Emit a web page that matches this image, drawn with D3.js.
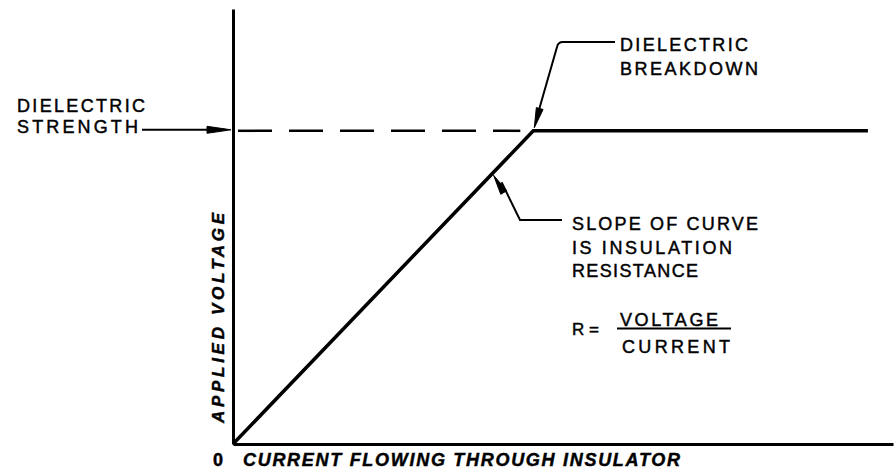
<!DOCTYPE html>
<html>
<head>
<meta charset="utf-8">
<script src="https://cdn.jsdelivr.net/npm/d3@7"></script>
<style>
  html, body { margin: 0; padding: 0; background: #fff; }
  svg { display: block; }
  text { font-family: "Liberation Sans", Arial, sans-serif; fill: #000; stroke: #000; stroke-width: 0.45px; }
</style>
</head>
<body>
<svg id="chart" width="894" height="471"></svg>
<script>
// ---- data (arbitrary units: current 0..100, voltage 0..100) ----
const curveCurrent = [0, 45.5, 96.2];
const curveVoltage = [0, 72, 72];
const dielectricStrength = 72;
const xAxisLabel = "CURRENT FLOWING THROUGH INSULATOR";
const yAxisLabel = "APPLIED VOLTAGE";
const originLabel = "0";
const strengthLabel = ["DIELECTRIC", "STRENGTH"];
const breakdownLabel = ["DIELECTRIC", "BREAKDOWN"];
const slopeLabel = ["SLOPE OF CURVE", "IS INSULATION", "RESISTANCE"];
const formulaParts = ["R =", "VOLTAGE", "CURRENT"];

const svg = d3.select("#chart");
const x = d3.scaleLinear().domain([0, 100]).range([233, 893]);
const y = d3.scaleLinear().domain([0, 100]).range([444, 9]);

// axes (plain lines, no ticks)
const xAxis = d3.axisBottom(x).tickValues([]).tickSize(0);
const yAxis = d3.axisLeft(y).tickValues([]).tickSize(0);
svg.append("g").attr("transform", `translate(0,${y(0)})`).call(xAxis)
  .select(".domain").attr("stroke", "#000").attr("stroke-width", 3);
svg.append("g").attr("transform", `translate(${x(0)},0)`).call(yAxis)
  .select(".domain").attr("stroke", "#000").attr("stroke-width", 3);

// dashed dielectric strength level
svg.append("line")
  .attr("x1", x(0) + 5).attr("x2", x(curveCurrent[1]) - 13)
  .attr("y1", y(dielectricStrength)).attr("y2", y(dielectricStrength))
  .attr("stroke", "#000").attr("stroke-width", 2.5)
  .attr("stroke-dasharray", "34,17");

// the curve
const pts = curveCurrent.map((c, i) => [c, curveVoltage[i]]);
svg.append("path")
  .datum(pts)
  .attr("d", d3.line().x(d => x(d[0])).y(d => y(d[1])))
  .attr("fill", "none").attr("stroke", "#000")
  .attr("stroke-width", 3.5).attr("stroke-linejoin", "miter");

// arrowhead helper
function arrowHead(tip, from, len, hw) {
  const dx = tip[0] - from[0], dy = tip[1] - from[1];
  const L = Math.hypot(dx, dy);
  const ux = dx / L, uy = dy / L;
  const bx = tip[0] - ux * len, by = tip[1] - uy * len;
  const px = -uy, py = ux;
  svg.append("path")
    .attr("d", `M${tip[0]},${tip[1]}L${bx + px * hw},${by + py * hw}L${bx - px * hw},${by - py * hw}Z`)
    .attr("fill", "#000").attr("stroke", "#000").attr("stroke-width", 1);
}

// --- DIELECTRIC STRENGTH label + leader ---
const yS = y(dielectricStrength);
svg.append("line").attr("x1", 142).attr("x2", x(0) - 8)
  .attr("y1", yS - 1).attr("y2", yS - 1).attr("stroke", "#000").attr("stroke-width", 2);
arrowHead([x(0) - 2, yS - 1], [142, yS - 1], 24, 3.5);
svg.append("text").attr("x", 17).attr("y", 112).attr("font-size", 18)
  .attr("textLength", 128).attr("lengthAdjust", "spacing").text(strengthLabel[0]);
svg.append("text").attr("x", 17).attr("y", 133).attr("font-size", 18)
  .attr("textLength", 121).attr("lengthAdjust", "spacing").text(strengthLabel[1]);

// --- DIELECTRIC BREAKDOWN label + leader ---
const bTip = [x(curveCurrent[1]) + 1, y(curveVoltage[1]) - 3];
svg.append("path")
  .attr("d", `M615,42H563Q558,42 557,47L${bTip[0] + 3},${bTip[1] - 12}`)
  .attr("fill", "none").attr("stroke", "#000").attr("stroke-width", 2);
arrowHead(bTip, [557, 47], 20, 3.5);
svg.append("text").attr("x", 620).attr("y", 51).attr("font-size", 18)
  .attr("textLength", 128).attr("lengthAdjust", "spacing").text(breakdownLabel[0]);
svg.append("text").attr("x", 620).attr("y", 75).attr("font-size", 18)
  .attr("textLength", 138).attr("lengthAdjust", "spacing").text(breakdownLabel[1]);

// --- SLOPE label + leader ---
const sV = 62;
const sTip = [x(curveCurrent[1] * sV / curveVoltage[1]) + 2, y(sV) + 1];
svg.append("path")
  .attr("d", `M562,220H520L${sTip[0] + 8},${sTip[1] + 7}`)
  .attr("fill", "none").attr("stroke", "#000").attr("stroke-width", 2);
arrowHead(sTip, [520, 220], 20, 3.5);
const slopeLens = [186, 160, 126];
slopeLabel.forEach((t, i) => {
  svg.append("text").attr("x", 572).attr("y", 230 + i * 23.5).attr("font-size", 18)
    .attr("textLength", slopeLens[i]).attr("lengthAdjust", "spacing").text(t);
});

// --- formula ---
svg.append("text").attr("x", 572).attr("y", 335).attr("font-size", 17).text(formulaParts[0]);
svg.append("text").attr("x", 620).attr("y", 326).attr("font-size", 18)
  .attr("textLength", 98).attr("lengthAdjust", "spacing").text(formulaParts[1]);
svg.append("line").attr("x1", 617).attr("x2", 731).attr("y1", 328.5).attr("y2", 328.5)
  .attr("stroke", "#000").attr("stroke-width", 2);
svg.append("text").attr("x", 622).attr("y", 353).attr("font-size", 18)
  .attr("textLength", 108).attr("lengthAdjust", "spacing").text(formulaParts[2]);

// --- axis labels ---
svg.append("text").attr("x", 213).attr("y", 466).attr("font-size", 18)
  .attr("font-weight", "bold").text(originLabel);
svg.append("text").attr("x", 243).attr("y", 466).attr("font-size", 18)
  .attr("font-weight", "bold").attr("font-style", "italic")
  .attr("textLength", 437).attr("lengthAdjust", "spacing").text(xAxisLabel);
svg.append("text")
  .attr("transform", "translate(224,423) rotate(-90)")
  .attr("font-size", 17).attr("font-weight", "bold").attr("font-style", "italic")
  .attr("textLength", 210).attr("lengthAdjust", "spacing").text(yAxisLabel);
</script>
</body>
</html>
